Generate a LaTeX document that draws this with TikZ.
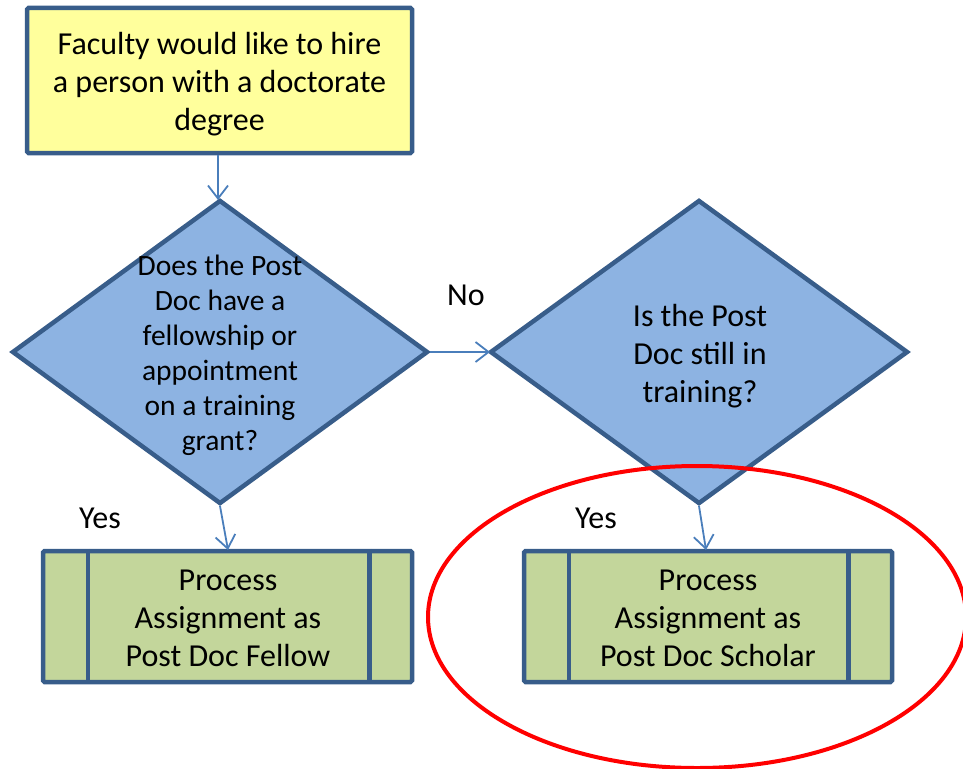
\documentclass[tikz,border=0pt]{standalone}
\usepackage{fontspec}
\setmainfont{Carlito}
\usetikzlibrary{arrows.meta,shapes.geometric,calc}
\definecolor{bord}{HTML}{385D8A}
\definecolor{dfill}{HTML}{8DB3E2}
\definecolor{yfill}{HTML}{FFFF9C}
\definecolor{gfill}{HTML}{C3D69B}
\definecolor{arr}{HTML}{4A7EBB}
\tikzset{
  boxstyle/.style={draw=bord,line width=4.5pt,rectangle,rounded corners=1.5pt,inner sep=0pt},
  diastyle/.style={draw=bord,line width=4.5pt,diamond,inner sep=0pt,aspect=1.37},
  txt/.style={font=\fontsize{32}{38}\selectfont,align=center,inner sep=0pt},
  conn/.style={draw=arr,line width=1.8pt,-{Straight Barb[length=13pt,width=20pt,line width=1.8pt]}},
  lbl/.style={font=\fontsize{32}{38}\selectfont,inner sep=0pt},
}
\begin{document}
\begin{tikzpicture}[x=1pt,y=-1pt]
\useasboundingbox (0,0) rectangle (963,768);
% top box
\node[boxstyle,fill=yfill,minimum width=385pt,minimum height=145pt] (top) at (219.5,80.5) {};
\node[txt] (toptxt) at (219.5,84.5) {Faculty would like to hire\\a person with a doctorate\\degree};
% diamonds
\node[diastyle,fill=dfill,minimum width=416pt,minimum height=304pt] (d1) at (220,352) {};
\node[txt,font=\fontsize{29.5}{35}\selectfont] (d1txt) at (220,355) {Does the Post\\Doc have a\\fellowship or\\appointment\\on a training\\grant?};
\node[diastyle,fill=dfill,minimum width=418pt,minimum height=304pt] (d2) at (699,352) {};
\node[txt] (d2txt) at (700,356) {Is the Post\\Doc still in\\training?};
% process boxes
\node[boxstyle,fill=gfill,minimum width=369pt,minimum height=131pt] (p1) at (227.5,616.5) {};
\draw[draw=bord,line width=4.5pt] ($(p1.north west)+(47,0)$) -- ($(p1.south west)+(47,0)$);
\draw[draw=bord,line width=4.5pt] ($(p1.north east)+(-45,0)$) -- ($(p1.south east)+(-45,0)$);
\node[txt] (p1txt) at (228,618) {Process\\Assignment as\\Post Doc Fellow};
\node[boxstyle,fill=gfill,minimum width=368pt,minimum height=131pt] (p2) at (708,616.5) {};
\draw[draw=bord,line width=4.5pt] ($(p2.north west)+(47,0)$) -- ($(p2.south west)+(47,0)$);
\draw[draw=bord,line width=4.5pt] ($(p2.north east)+(-46,0)$) -- ($(p2.south east)+(-46,0)$);
\node[txt] (p2txt) at (708,618) {Process\\Assignment as\\Post Doc Scholar};
% connectors
\coordinate (a1s) at (218,155);
\coordinate (a1e) at (218,200);
\draw[conn] (a1s) -- (a1e);
\coordinate (a2s) at (430,352);
\coordinate (a2e) at (490,352);
\draw[conn] (a2s) -- (a2e);
\coordinate (a3s) at (220,506);
\coordinate (a3e) at (228,550);
\draw[conn] (a3s) -- (a3e);
\coordinate (a4s) at (699,506);
\coordinate (a4e) at (706,550);
\draw[conn] (a4s) -- (a4e);
% labels
\node[lbl] (no) at (466,295) {No};
\node[lbl] (yes1) at (100,518) {Yes};
\node[lbl] (yes2) at (596,518) {Yes};
% red ellipse
\draw[red,line width=4pt] (697,617) ellipse [x radius=269, y radius=151];
\end{tikzpicture}
\end{document}
